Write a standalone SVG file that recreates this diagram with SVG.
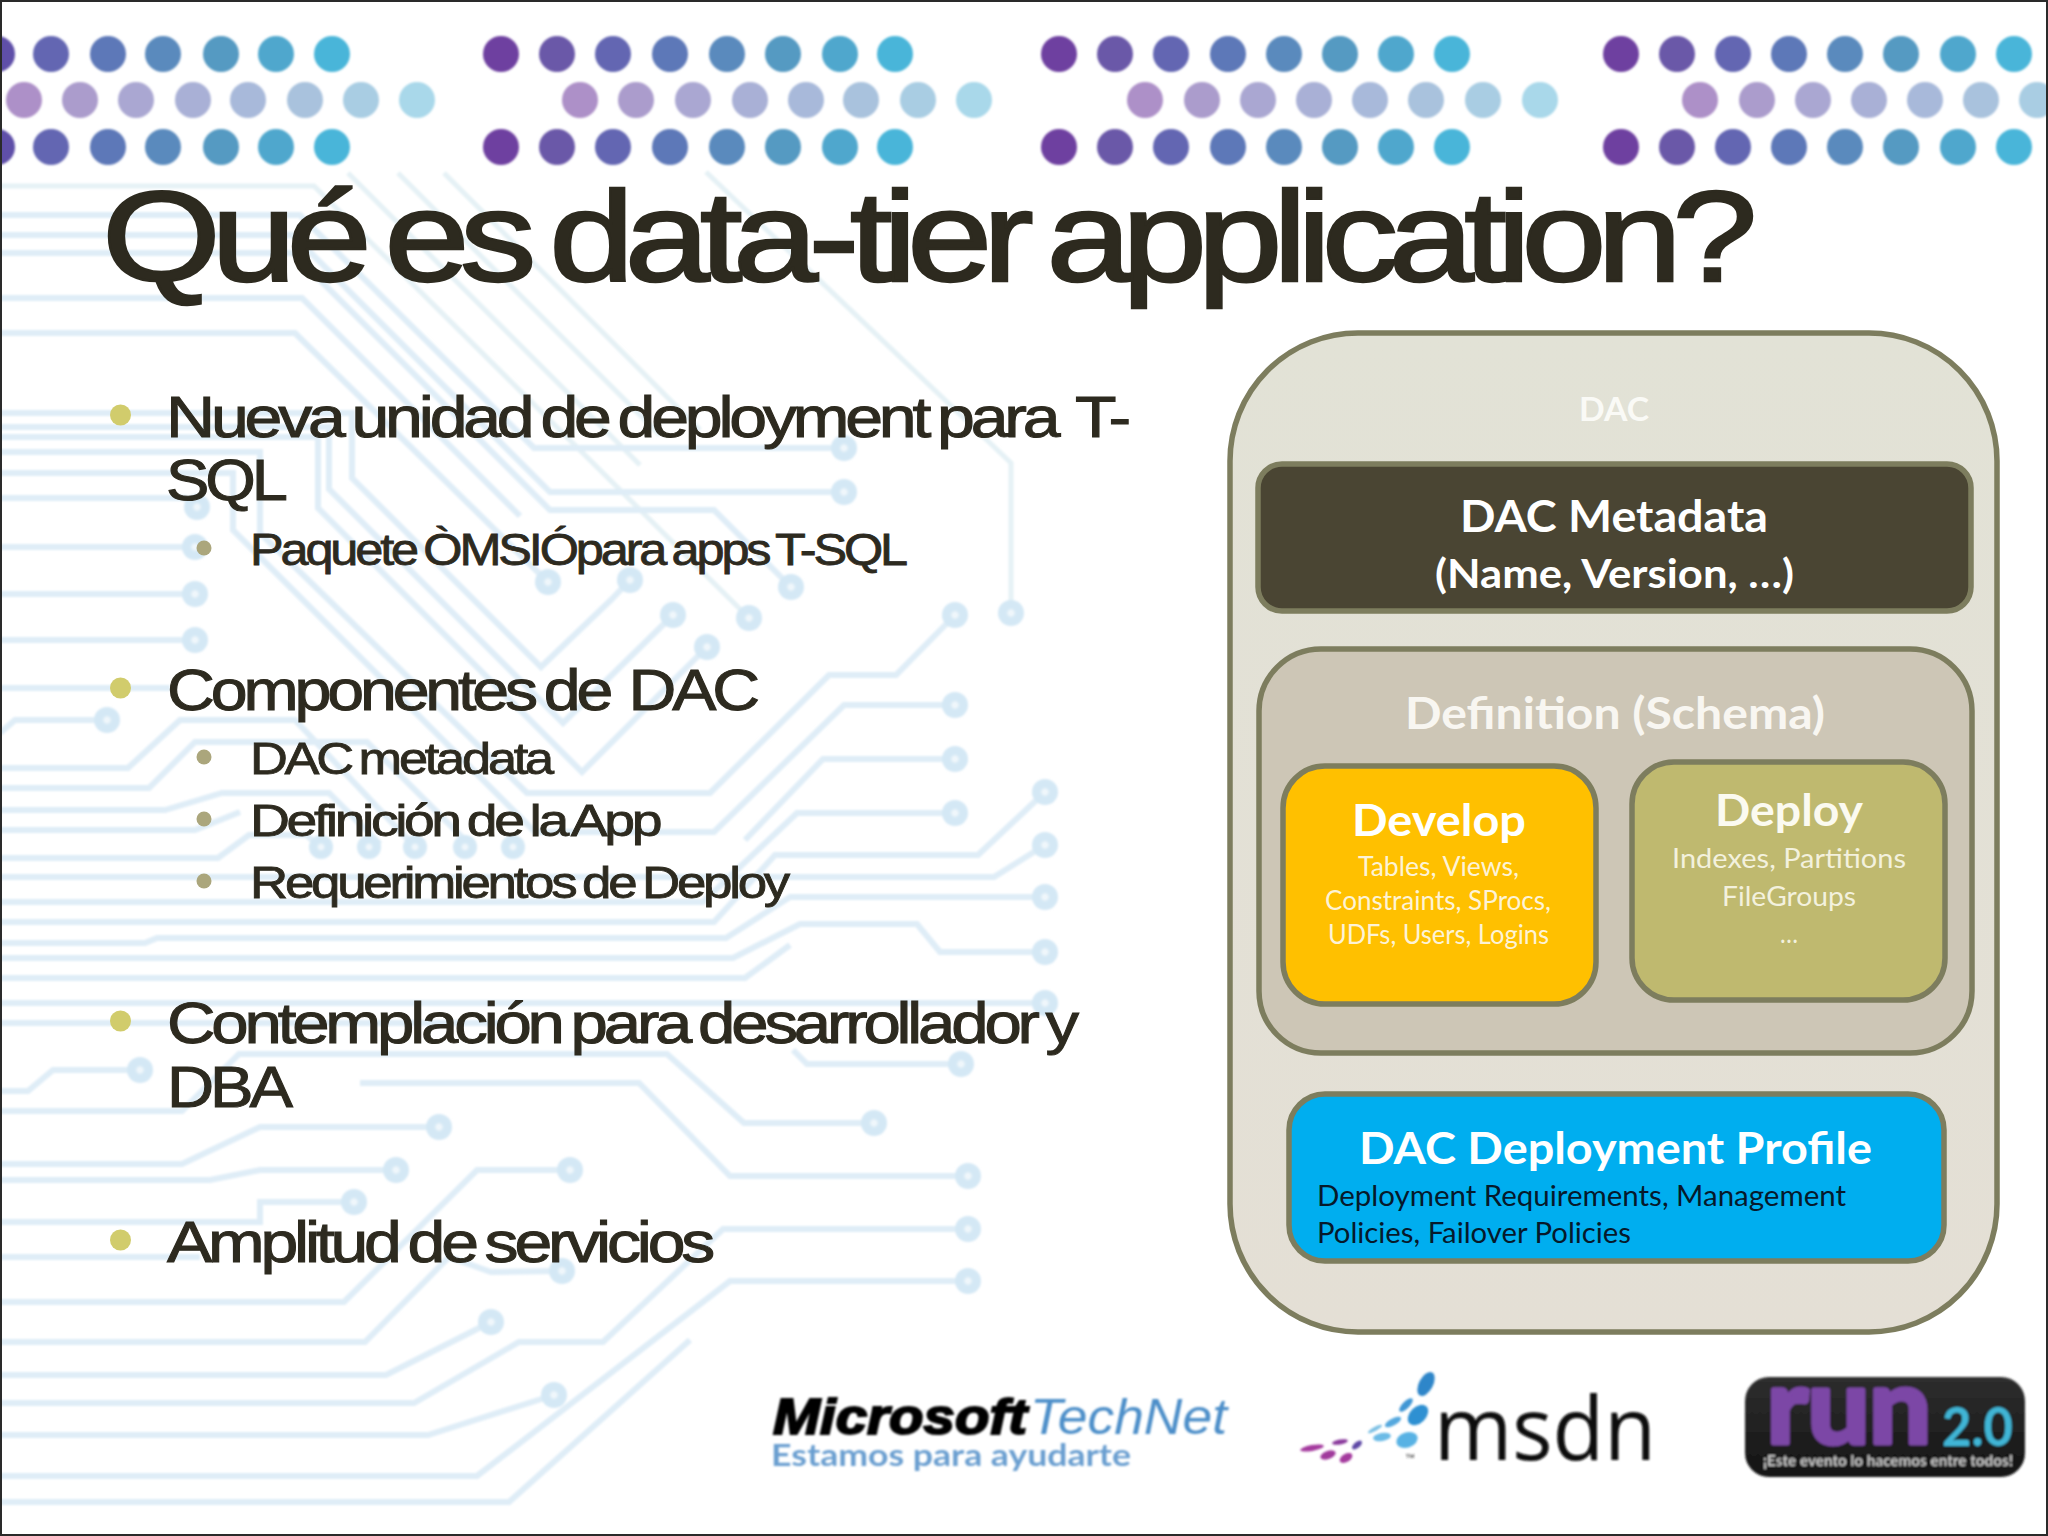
<svg xmlns="http://www.w3.org/2000/svg" width="2048" height="1536" viewBox="0 0 2048 1536">
<style>
.t{fill:none;stroke:#dfedf7;stroke-width:6;stroke-linejoin:miter}
.d{fill:none;stroke:#e5f1f5;stroke-width:5}
.c circle{fill:url(#pad)}
.m{font-family:"Liberation Sans",Arial,sans-serif;fill:#2d2a1f;stroke:#2d2a1f;letter-spacing:-0.062em;word-spacing:-0.07em}
.ttl{font-size:128px;stroke-width:2.4}
.l1{font-size:58px;stroke-width:1}
.l2{font-size:45px;stroke-width:.8}
.b1{fill:#d1cc6c}
.b2{fill:#aba67c}
.n{stroke:#7d7d5e;stroke-width:5.5}
.x{font-family:Lato,"Open Sans",sans-serif;text-anchor:start}
.bd{font-weight:700}
.w{fill:#ffffff}
.sm{font-size:27px;fill:#fdf3d6}
.sd{font-size:27px;fill:#f3f1dd}
.sp{font-size:29px;fill:#06192b}
</style>
<defs>
<filter id="soft" x="-2%" y="-2%" width="104%" height="104%"><feGaussianBlur stdDeviation="1.2"/></filter>
<filter id="soft2" x="-5%" y="-5%" width="110%" height="110%"><feGaussianBlur stdDeviation="0.9"/></filter>
<radialGradient id="pad"><stop offset="0.18" stop-color="#f0f7fb"/><stop offset="0.38" stop-color="#d4e8f5"/><stop offset="1" stop-color="#d4e8f5"/></radialGradient>
<linearGradient id="outerFill" x1="0" y1="0" x2="0" y2="1"><stop offset="0" stop-color="#e2e2d6"/><stop offset="1" stop-color="#e4dfd5"/></linearGradient>
<linearGradient id="runFill" x1="0" y1="0" x2="0" y2="1"><stop offset="0" stop-color="#2e2e2e"/><stop offset="1" stop-color="#141414"/></linearGradient>
</defs>
<rect width="2048" height="1536" fill="#ffffff"/>

<g id="circuit-background" filter="url(#soft)">
<polyline class="d" points="0,186 314,186 749,618"/>
<polyline class="d" points="348,173 640,465"/>
<polyline class="d" points="398,173 660,435"/>
<polyline class="d" points="444,173 700,430"/>
<polyline class="d" points="706,172 1011,463 1011,613"/>
<polyline class="t" points="0,215 300,215 534,448 844,448"/>
<polyline class="t" points="0,235 293,235 550,492 844,492"/>
<polyline class="t" points="0,253 293,253 550,510 714,510 791,587"/>
<polyline class="t" points="0,298 302,298 520,516"/>
<polyline class="t" points="0,333 295,333 548,582"/>
<polyline class="t" points="0,413 352,413 352,478 541,667 611,600 630,580"/>
<polyline class="t" points="0,427 329,427 329,489 563,723 673,615"/>
<polyline class="t" points="0,437 318,437 318,508 582,772 707,647"/>
<polyline class="t" points="0,452 260,452 260,533 527,793 710,793 829,675 896,675 955,615"/>
<polyline class="t" points="0,473 233,473 233,530 535,832 714,832 844,705 955,705"/>
<polyline class="t" points="0,498 185,498 197,507"/>
<polyline class="t" points="0,547 195,547"/>
<polyline class="t" points="0,594 195,594"/>
<polyline class="t" points="0,640 195,640"/>
<polyline class="t" points="0,688 170,688"/>
<polyline class="t" points="0,733 15,720 107,720"/>
<polyline class="t" points="0,768 128,768 180,720 295,720 415,847"/>
<polyline class="t" points="0,788 149,788 195,742 367,742 472,847"/>
<polyline class="t" points="0,810 165,810 222,793 329,793 380,844"/>
<polyline class="t" points="0,830 195,830 240,812"/>
<polyline class="t" points="0,858 218,858 249,835 306,835 321,847"/>
<polyline class="t" points="0,877 994,877 1045,845"/>
<polyline class="t" points="0,902 703,902 797,813 955,813"/>
<polyline class="t" points="0,922 714,922 775,855 978,855 1045,792"/>
<polyline class="t" points="0,943 145,943 157,938 726,938 790,897 1045,897"/>
<polyline class="t" points="0,958 733,958 800,924 917,924 940,952 1045,952"/>
<polyline class="t" points="0,978 745,978 790,945"/>
<polyline class="t" points="0,1003 1045,1003"/>
<polyline class="t" points="0,1023 500,1023"/>
<polyline class="t" points="0,1091 28,1091 53,1070 140,1070"/>
<polyline class="t" points="0,1111 182,1111 239,1054 667,1054 744,1123 874,1123"/>
<polyline class="t" points="0,1164 182,1164 260,1127 439,1127"/>
<polyline class="t" points="0,1180 210,1180 260,1170 396,1170"/>
<polyline class="t" points="0,1222 260,1222 260,1202 354,1202"/>
<polyline class="t" points="0,1257 200,1257"/>
<polyline class="t" points="0,1302 344,1302 477,1170 570,1170"/>
<polyline class="t" points="0,1342 365,1342 449,1257 491,1272 562,1271"/>
<polyline class="t" points="0,1375 386,1375 491,1322"/>
<polyline class="t" points="0,1403 414,1403 519,1342 603,1342 723,1229 968,1229"/>
<polyline class="t" points="0,1435 428,1435 554,1395"/>
<polyline class="t" points="0,1476 477,1476 730,1281 968,1281"/>
<polyline class="t" points="0,1502 509,1502 690,1340"/>
<polyline class="t" points="360,1083 639,1083 730,1176 968,1176"/>
<polyline class="t" points="793,1050 807,1064 961,1064"/>
<polyline class="t" points="745,840 823,759 955,759"/>
<g class="c">
<circle cx="844" cy="448" r="13"/><circle cx="844" cy="492" r="13"/><circle cx="791" cy="587" r="13"/>
<circle cx="548" cy="582" r="13"/><circle cx="630" cy="580" r="13"/><circle cx="673" cy="615" r="13"/>
<circle cx="749" cy="618" r="13"/><circle cx="707" cy="647" r="13"/><circle cx="955" cy="615" r="13"/>
<circle cx="1011" cy="613" r="13"/><circle cx="955" cy="705" r="13"/><circle cx="955" cy="759" r="13"/>
<circle cx="955" cy="813" r="13"/><circle cx="1045" cy="792" r="13"/><circle cx="1045" cy="845" r="13"/>
<circle cx="1045" cy="897" r="13"/><circle cx="1045" cy="952" r="13"/><circle cx="1045" cy="1003" r="13"/>
<circle cx="197" cy="507" r="13"/><circle cx="195" cy="547" r="13"/><circle cx="195" cy="594" r="13"/><circle cx="195" cy="640" r="13"/>
<circle cx="107" cy="720" r="13"/><circle cx="321" cy="847" r="12"/><circle cx="369" cy="847" r="12"/><circle cx="415" cy="847" r="12"/><circle cx="465" cy="847" r="12"/><circle cx="513" cy="847" r="12"/>
<circle cx="140" cy="1070" r="13"/><circle cx="874" cy="1123" r="13"/><circle cx="439" cy="1127" r="13"/><circle cx="396" cy="1170" r="13"/>
<circle cx="354" cy="1202" r="13"/><circle cx="570" cy="1170" r="13"/><circle cx="562" cy="1271" r="13"/><circle cx="491" cy="1322" r="13"/>
<circle cx="968" cy="1229" r="13"/><circle cx="554" cy="1395" r="13"/><circle cx="968" cy="1281" r="13"/><circle cx="968" cy="1176" r="13"/><circle cx="961" cy="1064" r="13"/>
</g>
</g>

<g id="dots" filter="url(#soft2)">
<g id="dots-row-1">
<circle cx="-3" cy="54" r="18" fill="#5f4fa8"/><circle cx="51" cy="54" r="18" fill="#6366b2"/><circle cx="108" cy="54" r="18" fill="#5d78b8"/><circle cx="163" cy="54" r="18" fill="#5a8abd"/><circle cx="221" cy="54" r="18" fill="#549ac2"/><circle cx="276" cy="54" r="18" fill="#4fa7cd"/><circle cx="332" cy="54" r="18" fill="#48b5d9"/>
<circle cx="501" cy="54" r="18" fill="#6e3fa0"/><circle cx="557" cy="54" r="18" fill="#6b58a8"/><circle cx="613" cy="54" r="18" fill="#6366b2"/><circle cx="670" cy="54" r="18" fill="#5d78b8"/><circle cx="727" cy="54" r="18" fill="#5a8abd"/><circle cx="783" cy="54" r="18" fill="#549ac2"/><circle cx="840" cy="54" r="18" fill="#4fa7cd"/><circle cx="895" cy="54" r="18" fill="#48b5d9"/>
<circle cx="1059" cy="54" r="18" fill="#6e3fa0"/><circle cx="1115" cy="54" r="18" fill="#6b58a8"/><circle cx="1171" cy="54" r="18" fill="#6366b2"/><circle cx="1228" cy="54" r="18" fill="#5d78b8"/><circle cx="1284" cy="54" r="18" fill="#5a8abd"/><circle cx="1340" cy="54" r="18" fill="#549ac2"/><circle cx="1396" cy="54" r="18" fill="#4fa7cd"/><circle cx="1452" cy="54" r="18" fill="#48b5d9"/>
<circle cx="1621" cy="54" r="18" fill="#6e3fa0"/><circle cx="1677" cy="54" r="18" fill="#6b58a8"/><circle cx="1733" cy="54" r="18" fill="#6366b2"/><circle cx="1789" cy="54" r="18" fill="#5d78b8"/><circle cx="1845" cy="54" r="18" fill="#5a8abd"/><circle cx="1901" cy="54" r="18" fill="#549ac2"/><circle cx="1958" cy="54" r="18" fill="#4fa7cd"/><circle cx="2014" cy="54" r="18" fill="#48b5d9"/>
</g>
<g id="dots-row-2">
<circle cx="24" cy="100" r="18" fill="#ad90c8"/><circle cx="80" cy="100" r="18" fill="#ab9ccc"/><circle cx="136" cy="100" r="18" fill="#aaa7d2"/><circle cx="193" cy="100" r="18" fill="#a9b0d6"/><circle cx="248" cy="100" r="18" fill="#a8b9da"/><circle cx="305" cy="100" r="18" fill="#a9c2dd"/><circle cx="361" cy="100" r="18" fill="#a9cde3"/><circle cx="417" cy="100" r="18" fill="#a9d8ea"/>
<circle cx="580" cy="100" r="18" fill="#ad90c8"/><circle cx="636" cy="100" r="18" fill="#ab9ccc"/><circle cx="693" cy="100" r="18" fill="#aaa7d2"/><circle cx="750" cy="100" r="18" fill="#a9b0d6"/><circle cx="806" cy="100" r="18" fill="#a8b9da"/><circle cx="861" cy="100" r="18" fill="#a9c2dd"/><circle cx="918" cy="100" r="18" fill="#a9cde3"/><circle cx="974" cy="100" r="18" fill="#a9d8ea"/>
<circle cx="1145" cy="100" r="18" fill="#ad90c8"/><circle cx="1202" cy="100" r="18" fill="#ab9ccc"/><circle cx="1258" cy="100" r="18" fill="#aaa7d2"/><circle cx="1314" cy="100" r="18" fill="#a9b0d6"/><circle cx="1370" cy="100" r="18" fill="#a8b9da"/><circle cx="1426" cy="100" r="18" fill="#a9c2dd"/><circle cx="1483" cy="100" r="18" fill="#a9cde3"/><circle cx="1540" cy="100" r="18" fill="#a9d8ea"/>
<circle cx="1700" cy="100" r="18" fill="#ad90c8"/><circle cx="1757" cy="100" r="18" fill="#ab9ccc"/><circle cx="1813" cy="100" r="18" fill="#aaa7d2"/><circle cx="1869" cy="100" r="18" fill="#a9b0d6"/><circle cx="1925" cy="100" r="18" fill="#a8b9da"/><circle cx="1981" cy="100" r="18" fill="#a9c2dd"/><circle cx="2037" cy="100" r="18" fill="#a9cde3"/>
</g>
<g id="dots-row-3">
<circle cx="-3" cy="147" r="18" fill="#5f4fa8"/><circle cx="51" cy="147" r="18" fill="#6366b2"/><circle cx="108" cy="147" r="18" fill="#5d78b8"/><circle cx="163" cy="147" r="18" fill="#5a8abd"/><circle cx="221" cy="147" r="18" fill="#549ac2"/><circle cx="276" cy="147" r="18" fill="#4fa7cd"/><circle cx="332" cy="147" r="18" fill="#48b5d9"/>
<circle cx="501" cy="147" r="18" fill="#6e3fa0"/><circle cx="557" cy="147" r="18" fill="#6b58a8"/><circle cx="613" cy="147" r="18" fill="#6366b2"/><circle cx="670" cy="147" r="18" fill="#5d78b8"/><circle cx="727" cy="147" r="18" fill="#5a8abd"/><circle cx="783" cy="147" r="18" fill="#549ac2"/><circle cx="840" cy="147" r="18" fill="#4fa7cd"/><circle cx="895" cy="147" r="18" fill="#48b5d9"/>
<circle cx="1059" cy="147" r="18" fill="#6e3fa0"/><circle cx="1115" cy="147" r="18" fill="#6b58a8"/><circle cx="1171" cy="147" r="18" fill="#6366b2"/><circle cx="1228" cy="147" r="18" fill="#5d78b8"/><circle cx="1284" cy="147" r="18" fill="#5a8abd"/><circle cx="1340" cy="147" r="18" fill="#549ac2"/><circle cx="1396" cy="147" r="18" fill="#4fa7cd"/><circle cx="1452" cy="147" r="18" fill="#48b5d9"/>
<circle cx="1621" cy="147" r="18" fill="#6e3fa0"/><circle cx="1677" cy="147" r="18" fill="#6b58a8"/><circle cx="1733" cy="147" r="18" fill="#6366b2"/><circle cx="1789" cy="147" r="18" fill="#5d78b8"/><circle cx="1845" cy="147" r="18" fill="#5a8abd"/><circle cx="1901" cy="147" r="18" fill="#549ac2"/><circle cx="1958" cy="147" r="18" fill="#4fa7cd"/><circle cx="2014" cy="147" r="18" fill="#48b5d9"/>
</g>
</g>

<text id="title" class="m ttl" x="102" y="281" textLength="1646" lengthAdjust="spacingAndGlyphs">Qué es data-tier application?</text>

<g id="bullets">
<circle class="b1" cx="120.500" cy="415" r="10.500"/>
<circle class="b2" cx="204" cy="548" r="7.500"/>
<circle class="b1" cx="120.500" cy="688" r="10.500"/>
<circle class="b2" cx="204" cy="757" r="7.500"/>
<circle class="b2" cx="204" cy="819" r="7.500"/>
<circle class="b2" cx="204" cy="881" r="7.500"/>
<circle class="b1" cx="120.500" cy="1021" r="10.500"/>
<circle class="b1" cx="120.500" cy="1240" r="10.500"/>
<g>
<text class="m l1" x="166" y="437" textLength="961" lengthAdjust="spacingAndGlyphs" xml:space="preserve">Nueva unidad de deployment para  T-</text>
<text class="m l1" x="166" y="500" textLength="118" lengthAdjust="spacingAndGlyphs">SQL</text>
<text class="m l2" x="250" y="565" textLength="655" lengthAdjust="spacingAndGlyphs">Paquete ÒMSIÓpara apps T-SQL</text>
<text class="m l1" x="167" y="710" textLength="589" lengthAdjust="spacingAndGlyphs" xml:space="preserve">Componentes de  DAC</text>
<text class="m l2" x="250" y="774" textLength="301" lengthAdjust="spacingAndGlyphs">DAC metadata</text>
<text class="m l2" x="250" y="836" textLength="409" lengthAdjust="spacingAndGlyphs">Definición de la App</text>
<text class="m l2" x="250" y="898" textLength="537" lengthAdjust="spacingAndGlyphs">Requerimientos de Deploy</text>
<text class="m l1" x="167" y="1043" textLength="908" lengthAdjust="spacingAndGlyphs">Contemplación para desarrollador y</text>
<text class="m l1" x="167" y="1107" textLength="122" lengthAdjust="spacingAndGlyphs">DBA</text>
<text class="m l1" x="167" y="1262" textLength="544" lengthAdjust="spacingAndGlyphs">Amplitud de servicios</text>
</g>
</g>

<g id="connectors"></g>

<g id="node-dac">
<rect class="n" x="1230" y="333" width="767" height="999" rx="128" ry="128" fill="url(#outerFill)"/>
<text class="x bd" x="1579" y="421" font-size="32" fill="#fafaf6" textLength="70" lengthAdjust="spacingAndGlyphs">DAC</text>
</g>
<g id="node-metadata">
<rect class="n" x="1258" y="464" width="713" height="147" rx="24" ry="24" fill="#4a4533"/>
<text class="x bd w" x="1460" y="532" font-size="44" textLength="308" lengthAdjust="spacingAndGlyphs">DAC Metadata</text>
<text class="x bd w" x="1435" y="588" font-size="40" textLength="359" lengthAdjust="spacingAndGlyphs">(Name, Version, …)</text>
</g>
<g id="node-definition">
<rect class="n" x="1259" y="649" width="713" height="404" rx="62" ry="62" fill="#cdc6b6"/>
<text class="x bd" x="1405" y="729" font-size="44" fill="#f8f6f1" textLength="420" lengthAdjust="spacingAndGlyphs">Definition (Schema)</text>
</g>
<g id="node-develop">
<rect class="n" x="1283" y="766" width="313" height="238" rx="42" ry="42" fill="#ffc000"/>
<text class="x bd w" x="1352" y="836" font-size="44" textLength="174" lengthAdjust="spacingAndGlyphs">Develop</text>
<text class="x sm" x="1358" y="876" textLength="161" lengthAdjust="spacingAndGlyphs">Tables, Views,</text>
<text class="x sm" x="1325" y="910" textLength="226" lengthAdjust="spacingAndGlyphs">Constraints, SProcs,</text>
<text class="x sm" x="1328" y="944" textLength="221" lengthAdjust="spacingAndGlyphs">UDFs, Users, Logins</text>
</g>
<g id="node-deploy">
<rect class="n" x="1632" y="762" width="313" height="238" rx="42" ry="42" fill="#bfb96f"/>
<text class="x bd" fill="#fbfaf0" x="1715" y="826" font-size="44" textLength="148" lengthAdjust="spacingAndGlyphs">Deploy</text>
<text class="x sd" x="1672" y="868" textLength="234" lengthAdjust="spacingAndGlyphs">Indexes, Partitions</text>
<text class="x sd" x="1722" y="906" textLength="134" lengthAdjust="spacingAndGlyphs">FileGroups</text>
<text class="x sd" x="1780" y="943" textLength="18" lengthAdjust="spacingAndGlyphs">…</text>
</g>
<g id="node-profile">
<rect class="n" x="1289" y="1094" width="655" height="167" rx="36" ry="36" fill="#00aeef"/>
<text class="x bd w" x="1359" y="1164" font-size="44" textLength="513" lengthAdjust="spacingAndGlyphs">DAC Deployment Profile</text>
<text class="x sp" x="1317" y="1206" textLength="529" lengthAdjust="spacingAndGlyphs">Deployment Requirements, Management</text>
<text class="x sp" x="1317" y="1243" textLength="314" lengthAdjust="spacingAndGlyphs">Policies, Failover Policies</text>
</g>

<g id="logo-technet" filter="url(#soft2)">
<text x="773" y="1434" font-family="Liberation Sans,Arial,sans-serif" font-style="italic" font-weight="700" font-size="50" fill="#000" stroke="#000" stroke-width="2" textLength="254" lengthAdjust="spacingAndGlyphs">Microsoft</text>
<text x="1030" y="1434" font-family="Liberation Sans,Arial,sans-serif" font-style="italic" font-size="50" fill="#4d8fc9" textLength="197" lengthAdjust="spacingAndGlyphs">TechNet</text>
<text x="771" y="1466" font-family="Lato,sans-serif" font-weight="700" font-size="30" fill="#6a9fd0" textLength="360" lengthAdjust="spacingAndGlyphs">Estamos para ayudarte</text>
</g>
<g id="logo-msdn" filter="url(#soft2)">
<ellipse cx="1426" cy="1384" rx="7" ry="13" transform="rotate(28 1426 1384)" fill="#2f86c9"/>
<ellipse cx="1406" cy="1405" rx="3.500" ry="9" transform="rotate(45 1406 1405)" fill="#3f96d4"/>
<ellipse cx="1418" cy="1415" rx="8" ry="12" transform="rotate(45 1418 1415)" fill="#2f90d2"/>
<ellipse cx="1393" cy="1422" rx="3.500" ry="9" transform="rotate(62 1393 1422)" fill="#55a8de"/>
<ellipse cx="1407" cy="1440" rx="7.500" ry="11" transform="rotate(72 1407 1440)" fill="#58b2e4"/>
<ellipse cx="1382" cy="1437" rx="4" ry="9" transform="rotate(80 1382 1437)" fill="#6cbbe6"/>
<ellipse cx="1375" cy="1429" rx="2" ry="8" transform="rotate(62 1375 1429)" fill="#7cc0e4"/>
<ellipse cx="1357" cy="1445" rx="3" ry="6" transform="rotate(50 1357 1445)" fill="#5f4aa6"/>
<ellipse cx="1340" cy="1442" rx="2.500" ry="8" transform="rotate(80 1340 1442)" fill="#8a3a9c"/>
<ellipse cx="1312" cy="1448" rx="3" ry="12" transform="rotate(80 1312 1448)" fill="#a43a9e"/>
<ellipse cx="1328" cy="1455" rx="4" ry="8" transform="rotate(70 1328 1455)" fill="#a03a9c"/>
<ellipse cx="1346" cy="1458" rx="4" ry="7" transform="rotate(60 1346 1458)" fill="#a43a9e"/>
<text x="1405" y="1461" font-family="Liberation Sans,sans-serif" font-size="10" fill="#333">™</text>
<text x="1434" y="1460" font-family="Open Sans,sans-serif" font-size="88" fill="#0a0a0a" textLength="222" lengthAdjust="spacingAndGlyphs">msdn</text>
</g>
<g id="logo-run" filter="url(#soft2)">
<rect x="1745" y="1377" width="280" height="100" rx="24" ry="24" fill="url(#runFill)"/>
<text x="1767" y="1443" font-family="Lato,sans-serif" font-weight="700" font-size="104" fill="#7b46a6" stroke="#7b46a6" stroke-width="5" stroke-linejoin="round" textLength="164" lengthAdjust="spacingAndGlyphs">run</text>
<text x="1942" y="1446" font-family="Lato,sans-serif" font-weight="700" font-size="54" fill="#3fb5d6" textLength="71" lengthAdjust="spacingAndGlyphs">2.0</text>
<text x="1763" y="1466" font-family="Lato,sans-serif" font-weight="700" font-size="16" fill="#c9c9c9" textLength="250" lengthAdjust="spacingAndGlyphs">¡Este evento lo hacemos entre todos!</text>
</g>

<rect id="frame" x="1" y="1" width="2046" height="1534" fill="none" stroke="#2a2a2a" stroke-width="2"/>
</svg>
